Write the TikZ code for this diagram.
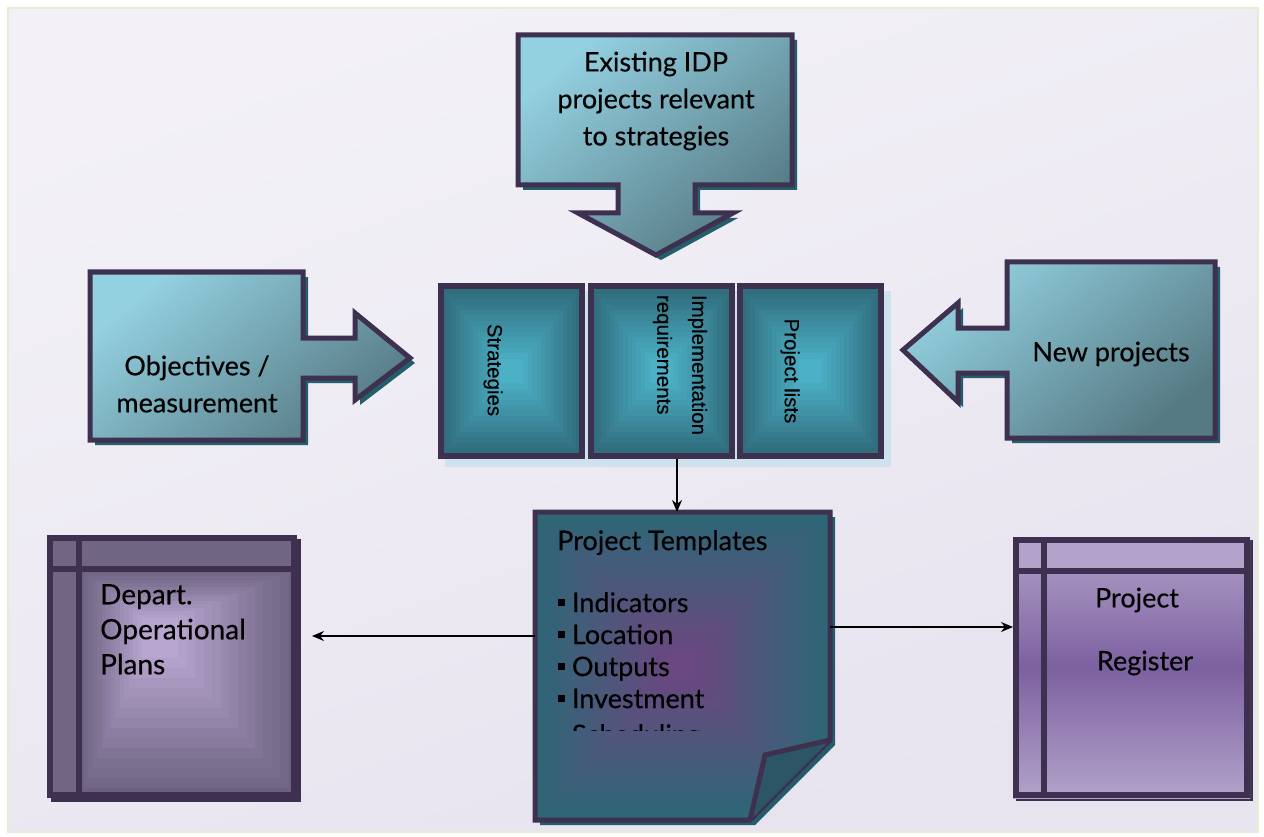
\documentclass[tikz,border=0pt]{standalone}
\usepackage{fontspec}
\setmainfont{Lato}[FakeBold=0.35]
\newfontfamily\arialf{Liberation Sans}[FakeBold=0.2]
\usetikzlibrary{arrows.meta}
\definecolor{bord}{HTML}{3E3150}
\definecolor{tshadow}{HTML}{235E6A}
\definecolor{callL}{HTML}{93D0E0}
\definecolor{callD}{HTML}{567A84}
\definecolor{cenC}{HTML}{4CB0C6}
\definecolor{cenE}{HTML}{2E6878}
\definecolor{cenSh}{HTML}{CDE2EC}
\definecolor{tplC}{HTML}{6A4880}
\definecolor{tplE}{HTML}{2E6676}
\definecolor{flap}{HTML}{2C5666}
\definecolor{depC}{HTML}{B8A6D0}
\definecolor{depE}{HTML}{6C6280}
\definecolor{depH}{HTML}{706682}
\definecolor{regL}{HTML}{B3A3CA}
\definecolor{regD}{HTML}{7C60A0}
\definecolor{bgA}{HTML}{F3F1F7}
\definecolor{bgB}{HTML}{E7E3EF}
\definecolor{frameG}{HTML}{E4EDD6}
\tikzset{
  calloutfill/.style={top color=callL, bottom color=callD, shading angle=40},
  calloutborder/.style={draw=bord, line width=5pt, line join=miter},
  calloutshadow/.style={fill=tshadow},
  bigtext/.style={font=\fontsize{27}{37}\selectfont, align=center, inner sep=0pt},
  vtext/.style={font=\arialf\fontsize{20.5}{35}\selectfont, rotate=-90, inner sep=0pt},
  tpltext/.style={font=\fontsize{27}{32}\selectfont, anchor=north west, align=left, inner sep=0pt},
  boxborder/.style={draw=bord, line width=6pt},
  connector/.style={-{Stealth[length=12pt,width=10pt]}, line width=1.3pt, black},
}
\newcommand{\sqbul}{\rule[0.22em]{0.26em}{0.26em}\hspace{0.25em}}
\begin{document}
\begin{tikzpicture}[x=1pt,y=-1pt]
\useasboundingbox (0,0) rectangle (1264,837);
\fill[white] (0,0) rectangle (1264,837);
\shade[top color=bgA, bottom color=bgB, shading angle=20] (8,8) rectangle (1258,832);
\draw[frameG, line width=2pt] (8,8) rectangle (1258,832);

% ---------- top callout ----------
\fill[calloutshadow, shift={(5,5)}] (518,35) -- (792,35) -- (792,185) -- (695,185) -- (695,213) -- (733,213) -- (656,255) -- (578,213) -- (618,213) -- (618,185) -- (518,185) -- cycle;
\shade[calloutfill] (518,35) -- (792,35) -- (792,185) -- (695,185) -- (695,213) -- (733,213) -- (656,255) -- (578,213) -- (618,213) -- (618,185) -- (518,185) -- cycle;
\draw[calloutborder] (518,35) -- (792,35) -- (792,185) -- (695,185) -- (695,213) -- (733,213) -- (656,255) -- (578,213) -- (618,213) -- (618,185) -- (518,185) -- cycle;
\node[bigtext] (existing) at (656,101) {Existing IDP\\projects relevant\\to strategies};

% ---------- left callout ----------
\fill[calloutshadow, shift={(5,5)}] (90,272) -- (303,272) -- (303,338) -- (355,338) -- (355,313) -- (410,358) -- (355,400) -- (355,378) -- (303,378) -- (303,440) -- (90,440) -- cycle;
\shade[calloutfill] (90,272) -- (303,272) -- (303,338) -- (355,338) -- (355,313) -- (410,358) -- (355,400) -- (355,378) -- (303,378) -- (303,440) -- (90,440) -- cycle;
\draw[calloutborder] (90,272) -- (303,272) -- (303,338) -- (355,338) -- (355,313) -- (410,358) -- (355,400) -- (355,378) -- (303,378) -- (303,440) -- (90,440) -- cycle;
\node[bigtext] (objectives) at (197,384) {Objectives /\\measurement};

% ---------- right callout ----------
\fill[calloutshadow, shift={(5,5)}] (1007,262) -- (1215,262) -- (1215,438) -- (1007,438) -- (1007,373) -- (958,373) -- (958,402) -- (903,350) -- (958,303) -- (958,328) -- (1007,328) -- cycle;
\shade[calloutfill] (1007,262) -- (1215,262) -- (1215,438) -- (1007,438) -- (1007,373) -- (958,373) -- (958,402) -- (903,350) -- (958,303) -- (958,328) -- (1007,328) -- cycle;
\draw[calloutborder] (1007,262) -- (1215,262) -- (1215,438) -- (1007,438) -- (1007,373) -- (958,373) -- (958,402) -- (903,350) -- (958,303) -- (958,328) -- (1007,328) -- cycle;
\node[bigtext] (newproj) at (1111,354) {New projects};

% ---------- central three boxes ----------
\fill[cenSh] (445,291) rectangle (891,467);
\foreach \xa/\xb in {438/585, 588/735, 737/884}{
  \foreach \i in {0,...,14}{
    \pgfmathtruncatemacro\p{100*\i/14}
    \fill[cenC!\p!cenE] (\xa+\i*4.4,283+\i*5.4) rectangle (\xb-\i*4.4,459-\i*5.4);
  }
  \draw[boxborder] (\xa+3,286) rectangle (\xb-3,456);
}
\node[vtext] (strategies) at (493,370) {Strategies};
\node[vtext, align=left] (implement) at (680,365) {Implementation\\requirements};
\node[vtext] (projlists) at (790,371) {Project lists};
\coordinate (cenbot) at (677,459);

% ---------- project templates note ----------
\fill[tshadow, shift={(5,5)}] (535,512) -- (830,512) -- (830,740) -- (750,820) -- (535,820) -- cycle;
\begin{scope}
  \clip (535,512) -- (830,512) -- (830,740) -- (750,820) -- (535,820) -- cycle;
  \foreach \i in {0,...,16}{
    \pgfmathtruncatemacro\p{100*\i/16}
    \fill[tplC!\p!tplE] (535+\i*8.2,512+\i*8.6) rectangle (830-\i*8.2,820-\i*8.6);
  }
\end{scope}
\draw[calloutborder] (535,512) -- (830,512) -- (830,740) -- (750,820) -- (535,820) -- cycle;
\fill[flap] (830,740) -- (765,755) -- (750,820) -- cycle;
\draw[calloutborder] (830,740) -- (765,755) -- (750,820);
\coordinate (tpltop) at (677,512);
\coordinate (tplleft) at (535,636);
\coordinate (tplright) at (830,627);
\node[tpltext, font=\fontsize{27}{30}\selectfont] (tpltitle) at (557,530) {Project Templates};
\node[tpltext] (tplitems) at (558,592) {\sqbul Indicators\\\sqbul Location\\\sqbul Outputs\\\sqbul Investment};
\begin{scope}
  \clip (540,716) rectangle (825,730);
  \node[tpltext] (tplsched) at (558,724) {\sqbul Scheduling};
\end{scope}

% ---------- Depart. Operational Plans ----------
\fill[bord] (51,539) rectangle (301,802);
\foreach \i in {0,...,14}{
  \pgfmathtruncatemacro\p{100*\i/14}
  \fill[depC!\p!depE] (79+\i*4.5,569+\i*3.5) rectangle (297-\i*8.5,798-\i*10);
}
\fill[depH] (47,535) rectangle (297,569);
\fill[depH] (47,535) rectangle (79,798);
\draw[boxborder] (50,538) rectangle (294,795);
\draw[bord, line width=6pt] (79,538) -- (79,795);
\draw[bord, line width=6pt] (50,569) -- (294,569);
\node[tpltext, font=\fontsize{28}{35}\selectfont] (depart) at (100,584) {Depart.\\Operational\\Plans};
\coordinate (depright) at (312,636);

% ---------- Project Register ----------
\fill[bord] (1016,540) rectangle (1253,801);
\shade[top color=regL, bottom color=regL, middle color=regD] (1013,537) rectangle (1250,798);
\fill[regL] (1013,537) rectangle (1250,571);
\draw[boxborder] (1016,540) rectangle (1247,795);
\draw[bord, line width=6pt] (1044,540) -- (1044,795);
\draw[bord, line width=6pt] (1016,571) -- (1247,571);
\node[bigtext, font=\fontsize{27}{35}\selectfont] (projreg) at (1137,600) {Project};
\node[bigtext, font=\fontsize{27}{35}\selectfont] (register) at (1145,663) {Register};
\coordinate (regleft) at (1013,627);

% ---------- connectors ----------
\draw[connector] (cenbot) -- (tpltop);
\draw[connector] (tplleft) -- (depright);
\draw[connector] (tplright) -- (regleft);
\end{tikzpicture}
\end{document}
